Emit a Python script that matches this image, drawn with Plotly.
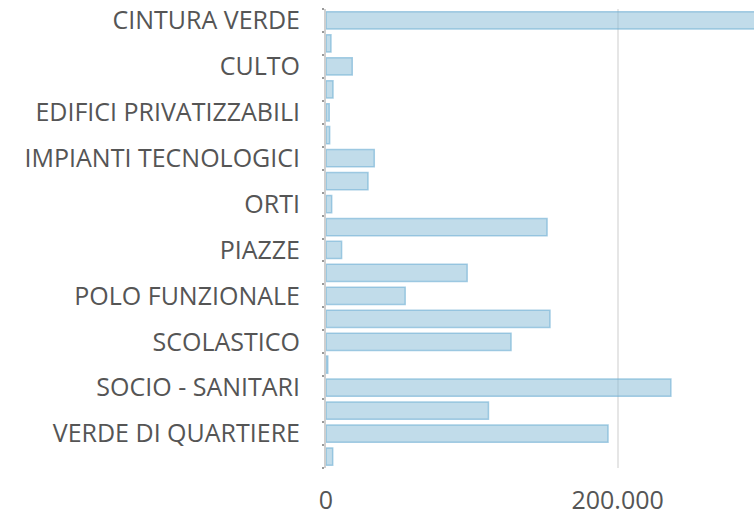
import plotly.graph_objects as go

categories = [
    "CINTURA VERDE", "COMMERCIALE", "CULTO", "CULTURALI",
    "EDIFICI PRIVATIZZABILI", "IMPIANTI SPORTIVI", "IMPIANTI TECNOLOGICI", "ISTRUZIONE",
    "ORTI", "PARCHEGGI", "PIAZZE", "PISTE CICLABILI",
    "POLO FUNZIONALE", "RESIDENZIALE", "SCOLASTICO", "SERVIZI",
    "SOCIO - SANITARI", "SPORTIVI", "VERDE DI QUARTIERE", "VERDE URBANO",
]
values = [
    400000, 3400, 18000, 4800,
    2200, 2500, 33100, 28800,
    3900, 151600, 10700, 96800,
    54300, 153600, 126900, 1200,
    236500, 111400, 193400, 4600,
]
shown_labels = [c if i % 2 == 0 else "" for i, c in enumerate(categories)]
x_ticks = [0, 200000]

fig = go.Figure(go.Bar(
    y=categories, x=values, orientation="h",
    marker=dict(color="rgba(131,185,213,0.5)",
                line=dict(color="rgba(110,175,212,0.6)", width=1.5)),
))

fig.update_layout(
    width=754, height=518,
    margin=dict(l=326, r=0, t=9, b=50),
    paper_bgcolor="white", plot_bgcolor="white",
    separators=",.",
    bargap=0.25,
    showlegend=False,
    font=dict(family="Open Sans, Segoe UI, sans-serif", size=25, color="#555555"),
)
fig.update_xaxes(
    range=[0, 293500], tickvals=x_ticks, tickformat=",d",
    showgrid=True, gridcolor="#e6e6e6", gridwidth=2,
    zeroline=False, showline=False, ticks="",
    ticklabelstandoff=15,
    automargin=False,
)
fig.update_yaxes(
    autorange="reversed", tickmode="array", tickvals=categories, ticktext=shown_labels,
    showline=True, linecolor="#cfcfcf", linewidth=2,
    ticks="outside", tickson="boundaries", ticklen=2, tickwidth=2, tickcolor="#9a9a9a",
    ticklabelstandoff=19,
    showgrid=False, automargin=False,
)
fig.write_html("out.html", config={"displayModeBar": False},
               post_script="document.body.style.margin='0';document.body.style.overflow='hidden';")
